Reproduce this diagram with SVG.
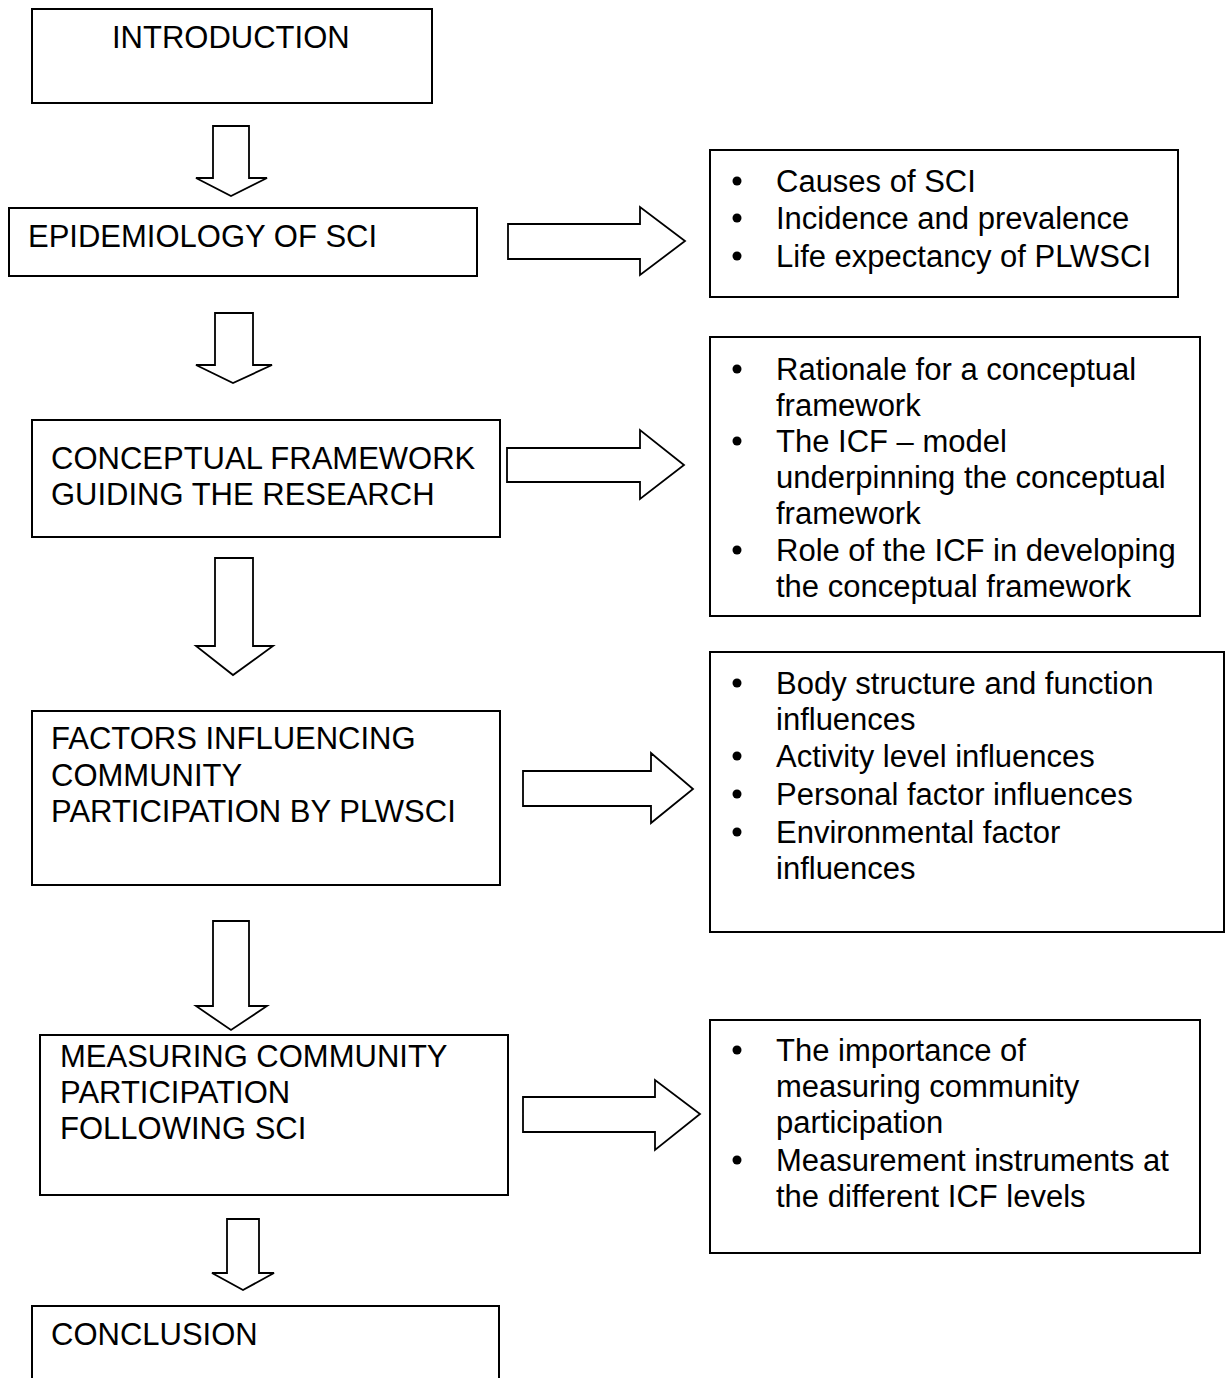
<svg xmlns="http://www.w3.org/2000/svg" width="1225" height="1378" viewBox="0 0 1225 1378">
<style>
.box{fill:#fff;stroke:#000;stroke-width:2}
.arr{fill:#fff;stroke:#000;stroke-width:1.8;stroke-linejoin:miter}
text{font-family:"Liberation Sans",Arial,sans-serif;font-size:31px;fill:#000}
.b{fill:#000}
</style>
<rect width="1225" height="1378" fill="#fff"/>
<g id="connectors">
<polygon class="arr" points="213,126 249,126 249,178 267,178 231,196 196,178 213,178"/>
<polygon class="arr" points="215,313 253,313 253,365 272,365 233,383 196,365 215,365"/>
<polygon class="arr" points="215,558 253,558 253,646 273,646 233,675 196,646 215,646"/>
<polygon class="arr" points="213,921 249,921 249,1006 267,1006 231,1030 196,1006 213,1006"/>
<polygon class="arr" points="227,1219 259,1219 259,1273 274,1273 243,1290 212,1273 227,1273"/>
<polygon class="arr" points="508,224 640,224 640,207 685,241 640,275 640,259 508,259"/>
<polygon class="arr" points="507,448 640,448 640,430 684,465 640,499 640,482 507,482"/>
<polygon class="arr" points="523,771 651,771 651,753 693,789 651,823 651,806 523,806"/>
<polygon class="arr" points="523,1097 655,1097 655,1080 700,1114 655,1150 655,1132 523,1132"/>
</g>
<g id="introduction">
<rect class="box" x="32" y="9" width="400" height="94"/>
<text x="112" y="48">INTRODUCTION</text>
</g>
<g id="epidemiology">
<rect class="box" x="9" y="208" width="468" height="68"/>
<text x="28" y="247">EPIDEMIOLOGY OF SCI</text>
</g>
<g id="epidemiology-details">
<rect class="box" x="710" y="150" width="468" height="147"/>
<circle class="b" cx="737" cy="181" r="4.5"/><text x="776" y="192">Causes of SCI</text>
<circle class="b" cx="737" cy="218" r="4.5"/><text x="776" y="229">Incidence and prevalence</text>
<circle class="b" cx="737" cy="256" r="4.5"/><text x="776" y="267">Life expectancy of PLWSCI</text>
</g>
<g id="conceptual">
<rect class="box" x="32" y="420" width="468" height="117"/>
<text x="51" y="469">CONCEPTUAL FRAMEWORK</text>
<text x="51" y="505">GUIDING THE RESEARCH</text>
</g>
<g id="conceptual-details">
<rect class="box" x="710" y="337" width="490" height="279"/>
<circle class="b" cx="737" cy="369" r="4.5"/><text x="776" y="380">Rationale for a conceptual</text>
<text x="776" y="416">framework</text>
<circle class="b" cx="737" cy="441" r="4.5"/><text x="776" y="452">The ICF – model</text>
<text x="776" y="488">underpinning the conceptual</text>
<text x="776" y="524">framework</text>
<circle class="b" cx="737" cy="550" r="4.5"/><text x="776" y="561">Role of the ICF in developing</text>
<text x="776" y="597">the conceptual framework</text>
</g>
<g id="factors">
<rect class="box" x="32" y="711" width="468" height="174"/>
<text x="51" y="749">FACTORS INFLUENCING</text>
<text x="51" y="786">COMMUNITY</text>
<text x="51" y="822">PARTICIPATION BY PLWSCI</text>
</g>
<g id="factors-details">
<rect class="box" x="710" y="652" width="514" height="280"/>
<circle class="b" cx="737" cy="683" r="4.5"/><text x="776" y="694">Body structure and function</text>
<text x="776" y="730">influences</text>
<circle class="b" cx="737" cy="756" r="4.5"/><text x="776" y="767">Activity level influences</text>
<circle class="b" cx="737" cy="794" r="4.5"/><text x="776" y="805">Personal factor influences</text>
<circle class="b" cx="737" cy="832" r="4.5"/><text x="776" y="843">Environmental factor</text>
<text x="776" y="879">influences</text>
</g>
<g id="measuring">
<rect class="box" x="40" y="1035" width="468" height="160"/>
<text x="60" y="1067">MEASURING COMMUNITY</text>
<text x="60" y="1103">PARTICIPATION</text>
<text x="60" y="1139">FOLLOWING SCI</text>
</g>
<g id="measuring-details">
<rect class="box" x="710" y="1020" width="490" height="233"/>
<circle class="b" cx="737" cy="1050" r="4.5"/><text x="776" y="1061">The importance of</text>
<text x="776" y="1097">measuring community</text>
<text x="776" y="1133">participation</text>
<circle class="b" cx="737" cy="1160" r="4.5"/><text x="776" y="1171">Measurement instruments at</text>
<text x="776" y="1207">the different ICF levels</text>
</g>
<g id="conclusion">
<rect class="box" x="32" y="1306" width="467" height="90"/>
<text x="51" y="1345">CONCLUSION</text>
</g>
</svg>
